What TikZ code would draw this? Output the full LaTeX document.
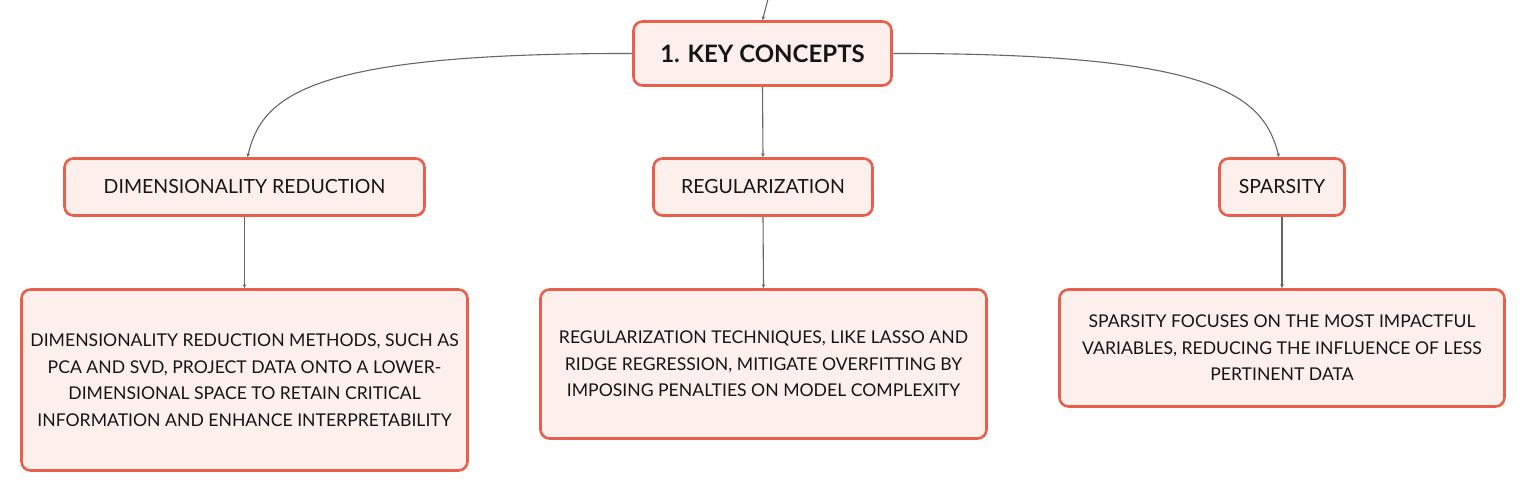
\documentclass[tikz,border=0pt]{standalone}
\usepackage{fontspec}
\setmainfont{Lato}
\usetikzlibrary{arrows.meta}
\definecolor{bordc}{HTML}{E8604C}
\definecolor{fillc}{HTML}{FDF0EC}
\definecolor{linec}{HTML}{666666}
\definecolor{txtc}{HTML}{151515}
\tikzset{
  box/.style={draw=bordc, fill=fillc, line width=2.6pt, rounded corners=9pt,
    inner sep=0pt, align=center, text=txtc},
  headbox/.style={box, minimum height=57pt, font=\fontsize{19.5}{23}\selectfont},
  bodybox/.style={box, minimum width=446pt, font=\fontsize{17.6}{26.5}\selectfont},
  conn/.style={draw=linec, line width=1.1pt, -{Stealth[length=4pt,width=3.5pt]}},
}
\begin{document}
\begin{tikzpicture}[x=1pt,y=-1pt]
\useasboundingbox (0,0) rectangle (1527,494);
\node[box, minimum width=258pt, minimum height=64pt,
  font=\bfseries\fontsize{24}{28}\selectfont] (kc) at (762.5,53.5) {1. KEY CONCEPTS};
\node[headbox, minimum width=360pt] (dr) at (244.5,187) {DIMENSIONALITY REDUCTION};
\node[headbox, minimum width=219pt] (reg) at (763,187) {REGULARIZATION};
\node[headbox, minimum width=125pt] (sp) at (1282,187) {SPARSITY};
\node[bodybox, minimum height=181pt] (b1) at (244.5,380) {DIMENSIONALITY REDUCTION METHODS, SUCH AS\\PCA AND SVD, PROJECT DATA ONTO A LOWER-\\DIMENSIONAL SPACE TO RETAIN CRITICAL\\INFORMATION AND ENHANCE INTERPRETABILITY};
\node[bodybox, minimum height=149pt] (b2) at (763.5,364) {REGULARIZATION TECHNIQUES, LIKE LASSO AND\\RIDGE REGRESSION, MITIGATE OVERFITTING BY\\IMPOSING PENALTIES ON MODEL COMPLEXITY};
\node[bodybox, minimum width=445pt, minimum height=117pt] (b3) at (1282,348) {SPARSITY FOCUSES ON THE MOST IMPACTFUL\\VARIABLES, REDUCING THE INFLUENCE OF LESS\\PERTINENT DATA};
\coordinate (topin) at (768,-1);
\draw[conn] (topin) -- (kc.north);
\draw[conn] (kc.west) .. controls (310,53) and (262,95) .. ([xshift=3pt]dr.north);
\draw[conn] (kc.east) .. controls (1215.5,53) and (1263.5,95) .. ([xshift=-3pt]sp.north);
\draw[conn] (kc.south) -- (reg.north);
\draw[conn] (dr.south) -- (b1.north);
\draw[conn] (reg.south) -- (b2.north);
\draw[conn] (sp.south) -- (b3.north);
\end{tikzpicture}
\end{document}
